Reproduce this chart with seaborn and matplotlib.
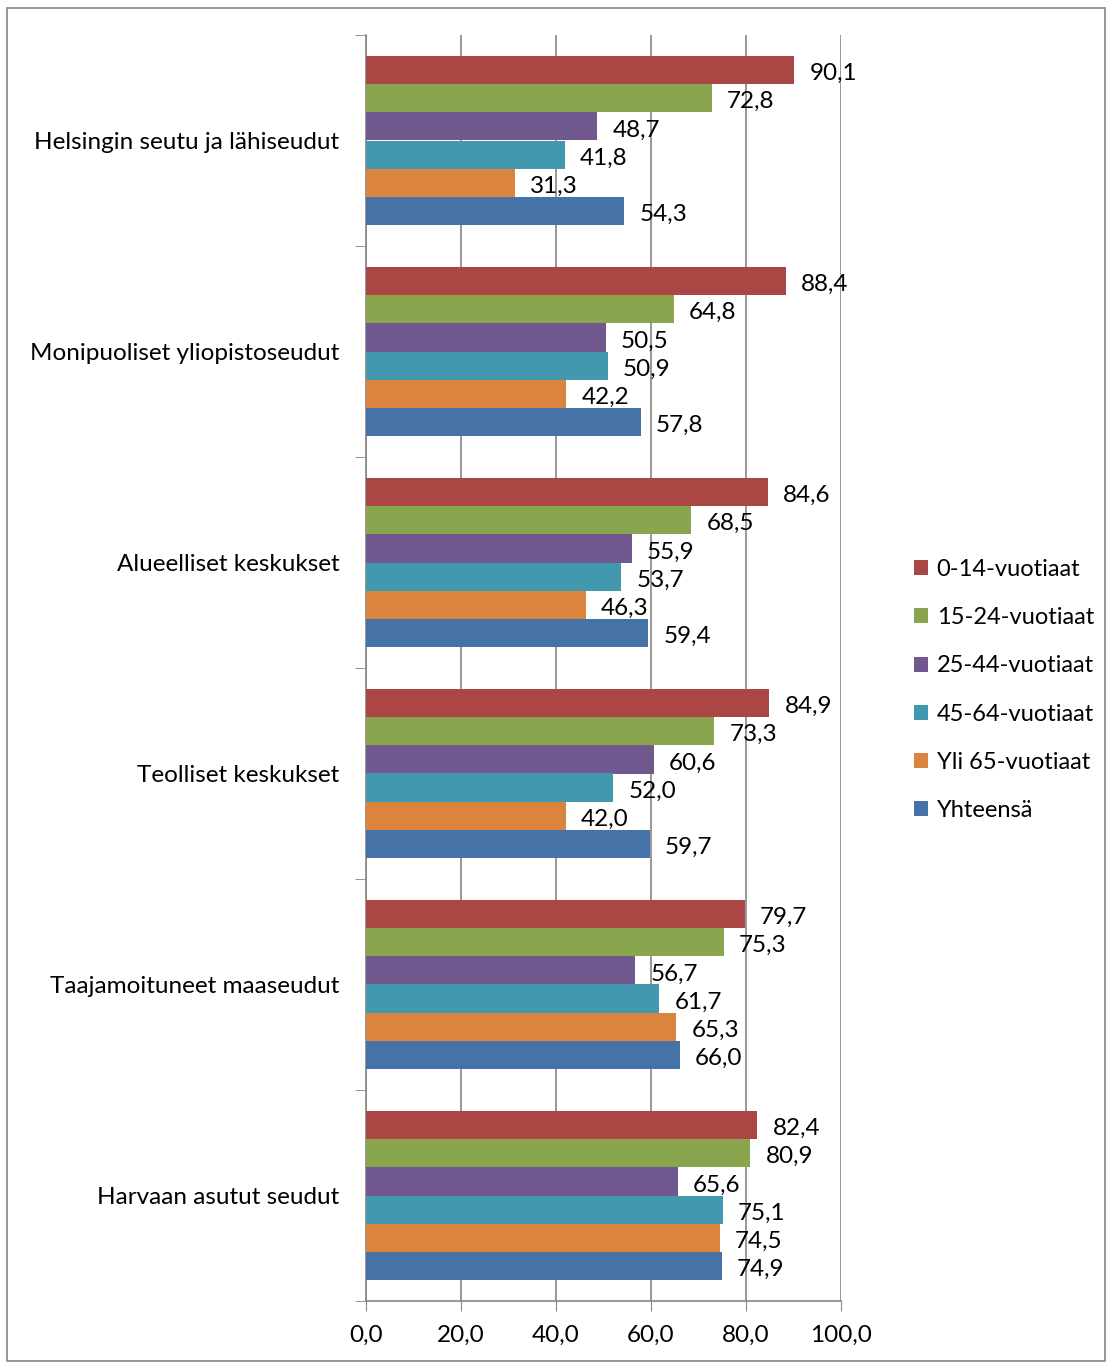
import matplotlib
matplotlib.use("Agg")
import matplotlib.pyplot as plt
import seaborn as sns
import pandas as pd

# Data
regions = ["Helsingin seutu ja lähiseudut", "Monipuoliset yliopistoseudut",
           "Alueelliset keskukset", "Teolliset keskukset",
           "Taajamoituneet maaseudut", "Harvaan asutut seudut"]
groups = ["0-14-vuotiaat", "15-24-vuotiaat", "25-44-vuotiaat",
          "45-64-vuotiaat", "Yli 65-vuotiaat", "Yhteensä"]
age_0_14 = [90.1, 88.4, 84.6, 84.9, 79.7, 82.4]
age_15_24 = [72.8, 64.8, 68.5, 73.3, 75.3, 80.9]
age_25_44 = [48.7, 50.5, 55.9, 60.6, 56.7, 65.6]
age_45_64 = [41.8, 50.9, 53.7, 52.0, 61.7, 75.1]
age_65 = [31.3, 42.2, 46.3, 42.0, 65.3, 74.5]
total = [54.3, 57.8, 59.4, 59.7, 66.0, 74.9]
colors = ["#AA4643", "#89A54E", "#71588F", "#4198AF", "#DB843D", "#4572A7"]

series = [age_0_14, age_15_24, age_25_44, age_45_64, age_65, total]
rows = []
for g, vals in zip(groups, series):
    for r, v in zip(regions, vals):
        rows.append({"Alue": r, "Ryhmä": g, "Arvo": v})
df = pd.DataFrame(rows)

sns.set_style("white")
plt.rcParams["font.family"] = ["Lato", "DejaVu Sans"]
plt.rcParams["text.color"] = "black"
plt.rcParams["xtick.labelcolor"] = "black"
plt.rcParams["ytick.labelcolor"] = "black"
fs = 17.5

fig = plt.figure(figsize=(11.12, 13.62), dpi=100)
ax = fig.add_axes([366 / 1112, 61 / 1362, 475 / 1112, 1266 / 1362])

sns.barplot(data=df, y="Alue", x="Arvo", hue="Ryhmä", order=regions,
            hue_order=groups, palette=colors, orient="h", width=0.8,
            saturation=1, linewidth=0, ax=ax, zorder=3)

# data labels, nudged slightly down like the original
for c in ax.containers:
    texts = ax.bar_label(c, labels=[f"{v:.1f}".replace(".", ",") for v in c.datavalues],
                         padding=11, fontsize=fs, zorder=4)
    for t in texts:
        t.xyann = (11, -2.5)

ax.set_xlim(0, 100)
ax.set_xticks(range(0, 101, 20))
ax.set_xticklabels([f"{v:.1f}".replace(".", ",") for v in range(0, 101, 20)], fontsize=fs)
ax.set_ylim(len(regions) - 0.5, -0.5)
ax.set_xlabel("")
ax.set_ylabel("")
ax.tick_params(axis="y", length=0, labelsize=fs, pad=19)
ax.set_yticks(range(len(regions)))
ax.set_yticks([i - 0.5 for i in range(len(regions) + 1)], minor=True)
ax.tick_params(axis="y", which="minor", length=8, color="#868686", left=True)
ax.tick_params(axis="x", length=7, color="#868686", bottom=True, pad=10)
ax.grid(axis="x", color="#868686", linewidth=1.2, zorder=0)
for s in ["top", "right"]:
    ax.spines[s].set_visible(False)
for s in ["left", "bottom"]:
    ax.spines[s].set_color("#868686")
    ax.spines[s].set_linewidth(1.2)

leg = ax.legend(loc="center left", bbox_to_anchor=(893 / 1112, 672 / 1362), bbox_transform=fig.transFigure,
                frameon=False, fontsize=fs - 0.5, handlelength=0.6, handleheight=0.6,
                labelspacing=1.15, handletextpad=0.35)

border = plt.Rectangle((0.006, 0.001), 0.988, 0.993, transform=fig.transFigure,
                       fill=False, edgecolor="#868686", linewidth=1.2)
fig.patches.append(border)

fig.savefig("out.png", dpi=100)
